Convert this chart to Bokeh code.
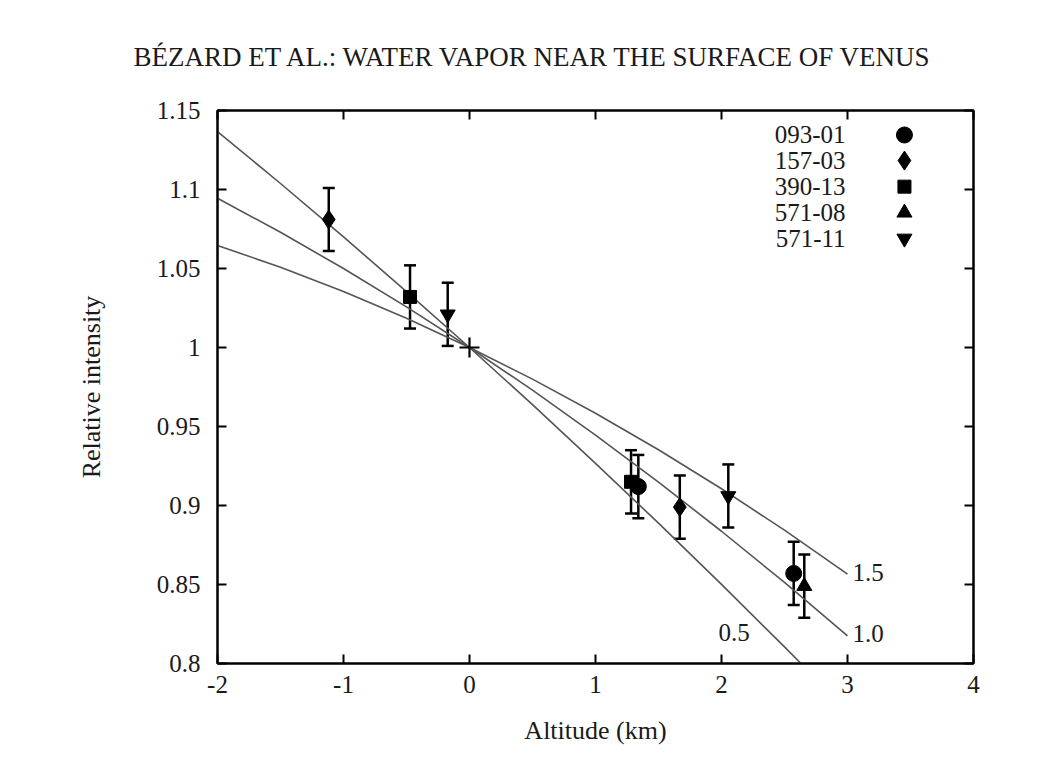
from bokeh.plotting import figure
from bokeh.models import (Range1d, LinearAxis, FixedTicker, Whisker, ColumnDataSource,
                          Title, TeeHead)
from bokeh.embed import file_html
from bokeh.resources import INLINE
from bokeh.core.properties import value

# ---------------- data ----------------
title_text = "BÉZARD ET AL.: WATER VAPOR NEAR THE SURFACE OF VENUS"
x_label = "Altitude (km)"
y_label = "Relative intensity"
x_ticks = [-2, -1, 0, 1, 2, 3, 4]
x_tick_labels = ["-2", "-1", "0", "1", "2", "3", "4"]
y_ticks = [0.8, 0.85, 0.9, 0.95, 1.0, 1.05, 1.1, 1.15]
y_tick_labels = ["0.8", "0.85", "0.9", "0.95", "1", "1.05", "1.1", "1.15"]

series_names = ["093-01", "157-03", "390-13", "571-08", "571-11"]
alt_093_01 = [1.34, 2.573]
int_093_01 = [0.912, 0.857]
alt_157_03 = [-1.117, 1.669]
int_157_03 = [1.081, 0.899]
alt_390_13 = [-0.472, 1.282]
int_390_13 = [1.032, 0.915]
alt_571_08 = [2.657]
int_571_08 = [0.849]
alt_571_11 = [-0.173, 2.054]
int_571_11 = [1.021, 0.906]
error_bar = 0.02

ref_alt = [0.0]
ref_int = [1.0]

curve_names = ["0.5", "1.0", "1.5"]
curve_alt_05 = [-2, -1.5, -1, -0.5, 0, 0.5, 1, 1.5, 2, 2.5, 2.631]
curve_int_05 = [1.1367, 1.1038, 1.0700, 1.0354, 1.0, 0.9638, 0.9267, 0.8888, 0.8501, 0.8105, 0.8]
curve_alt_10 = [-2, -1.5, -1, -0.5, 0, 0.5, 1, 1.5, 2, 2.5, 3]
curve_int_10 = [1.0945, 1.0729, 1.0500, 1.0257, 1.0, 0.9730, 0.9446, 0.9148, 0.8837, 0.8513, 0.8175]
curve_alt_15 = [-2, -1.5, -1, -0.5, 0, 0.5, 1, 1.5, 2, 2.5, 3]
curve_int_15 = [1.0646, 1.0508, 1.0354, 1.0185, 1.0, 0.9800, 0.9584, 0.9353, 0.9106, 0.8844, 0.8566]

# ---------------- styling ----------------
FONT = "Liberation Serif"
W, H = 1063, 757
FL, FR, FT, FB = 217, 973, 110, 663
TXT = "#1a1a1a"

p = figure(width=W, height=H, output_backend="svg", toolbar_location=None,
           x_range=Range1d(-2, 4), y_range=Range1d(0.8, 1.15),
           min_border_left=FL, min_border_right=W - FR,
           min_border_top=FT, min_border_bottom=H - FB,
           x_axis_location=None, y_axis_location=None)
p.background_fill_color = "white"
p.border_fill_color = "white"
p.outline_line_color = "black"
p.outline_line_width = 2
p.xgrid.visible = False
p.ygrid.visible = False


def style_axis(ax, labels=True):
    ax.axis_line_width = 2
    ax.axis_line_color = "black"
    ax.major_tick_in = 9
    ax.major_tick_out = 0
    ax.major_tick_line_width = 2
    ax.minor_tick_line_color = None
    ax.major_label_text_font = FONT
    ax.major_label_text_font_size = "25px"
    ax.major_label_text_color = TXT
    ax.axis_label_text_font = FONT
    ax.axis_label_text_font_size = "26px"
    ax.axis_label_text_font_style = "normal"
    ax.axis_label_text_color = TXT
    if not labels:
        ax.major_label_text_font_size = "0px"
        ax.major_label_text_alpha = 0
        ax.major_label_standoff = 0


xb = LinearAxis(ticker=FixedTicker(ticks=x_ticks), axis_label=x_label)
style_axis(xb)
xb.major_label_overrides = {t: l for t, l in zip(x_ticks, x_tick_labels)}
xb.major_label_standoff = 12
xb.axis_label_standoff = 20
p.add_layout(xb, "below")

yl = LinearAxis(ticker=FixedTicker(ticks=y_ticks), axis_label=y_label)
style_axis(yl)
yl.major_label_overrides = {t: l for t, l in zip(y_ticks, y_tick_labels)}
yl.major_label_standoff = 17
yl.axis_label_standoff = 48
p.add_layout(yl, "left")

xt = LinearAxis(ticker=FixedTicker(ticks=x_ticks))
style_axis(xt, labels=False)
p.add_layout(xt, "above")
yr = LinearAxis(ticker=FixedTicker(ticks=y_ticks))
style_axis(yr, labels=False)
p.add_layout(yr, "right")

t = Title(text=title_text, text_font=FONT, text_font_size="27px",
          text_font_style="normal", text_color=TXT, align="left",
          offset=133 - FL, standoff=78, text_line_height=1.0)
p.add_layout(t, "above")

# model curves
curve_color = "#555555"
for cx, cy in [(curve_alt_05, curve_int_05), (curve_alt_10, curve_int_10),
               (curve_alt_15, curve_int_15)]:
    p.line(cx, cy, line_color=curve_color, line_width=1.6)

# curve labels
lab_x = [curve_alt_05[-1] - 0.655, curve_alt_10[-1] + 0.04, curve_alt_15[-1] + 0.04]
lab_y = [0.8196, curve_int_10[-1] + 0.0015, curve_int_15[-1] + 0.001]
p.text(lab_x, lab_y, text=curve_names, text_font=value(FONT), text_font_size="25px",
       text_baseline="middle", text_align="left", text_color=TXT)

# data with error bars
series = [
    (alt_093_01, int_093_01, "circle", 16),
    (alt_157_03, int_157_03, "diamond", 19),
    (alt_390_13, int_390_13, "square", 13),
    (alt_571_08, int_571_08, "triangle", 15),
    (alt_571_11, int_571_11, "inverted_triangle", 15),
]
for xs, ys, mk, sz in series:
    src = ColumnDataSource(dict(x=xs, y=ys,
                                lo=[v - error_bar for v in ys],
                                hi=[v + error_bar for v in ys]))
    w = Whisker(source=src, base="x", upper="hi", lower="lo", dimension="height",
                line_width=2.5, line_color="black",
                upper_head=TeeHead(size=12, line_width=2.5, line_color="black"),
                lower_head=TeeHead(size=12, line_width=2.5, line_color="black"))
    p.add_layout(w)
    p.scatter("x", "y", source=src, marker=mk, size=sz, fill_color="black",
              line_color="black")

p.scatter(ref_alt, ref_int, marker="cross", size=20, line_width=2.2, line_color="black")

# key (label left, symbol right, as in the original)
key_text_x = [2.985] * len(series_names)
key_y = [1.1345, 1.1183, 1.1018, 1.0853, 1.0690]
p.text(key_text_x, key_y, text=series_names, text_font=value(FONT),
       text_font_size="25px", text_baseline="middle", text_align="right",
       text_color=TXT)
for (xs, ys, mk, sz), ky in zip(series, key_y):
    p.scatter([3.452], [ky], marker=mk, size=sz, fill_color="black", line_color="black")

open("out.html", "w").write(file_html(p, INLINE))
